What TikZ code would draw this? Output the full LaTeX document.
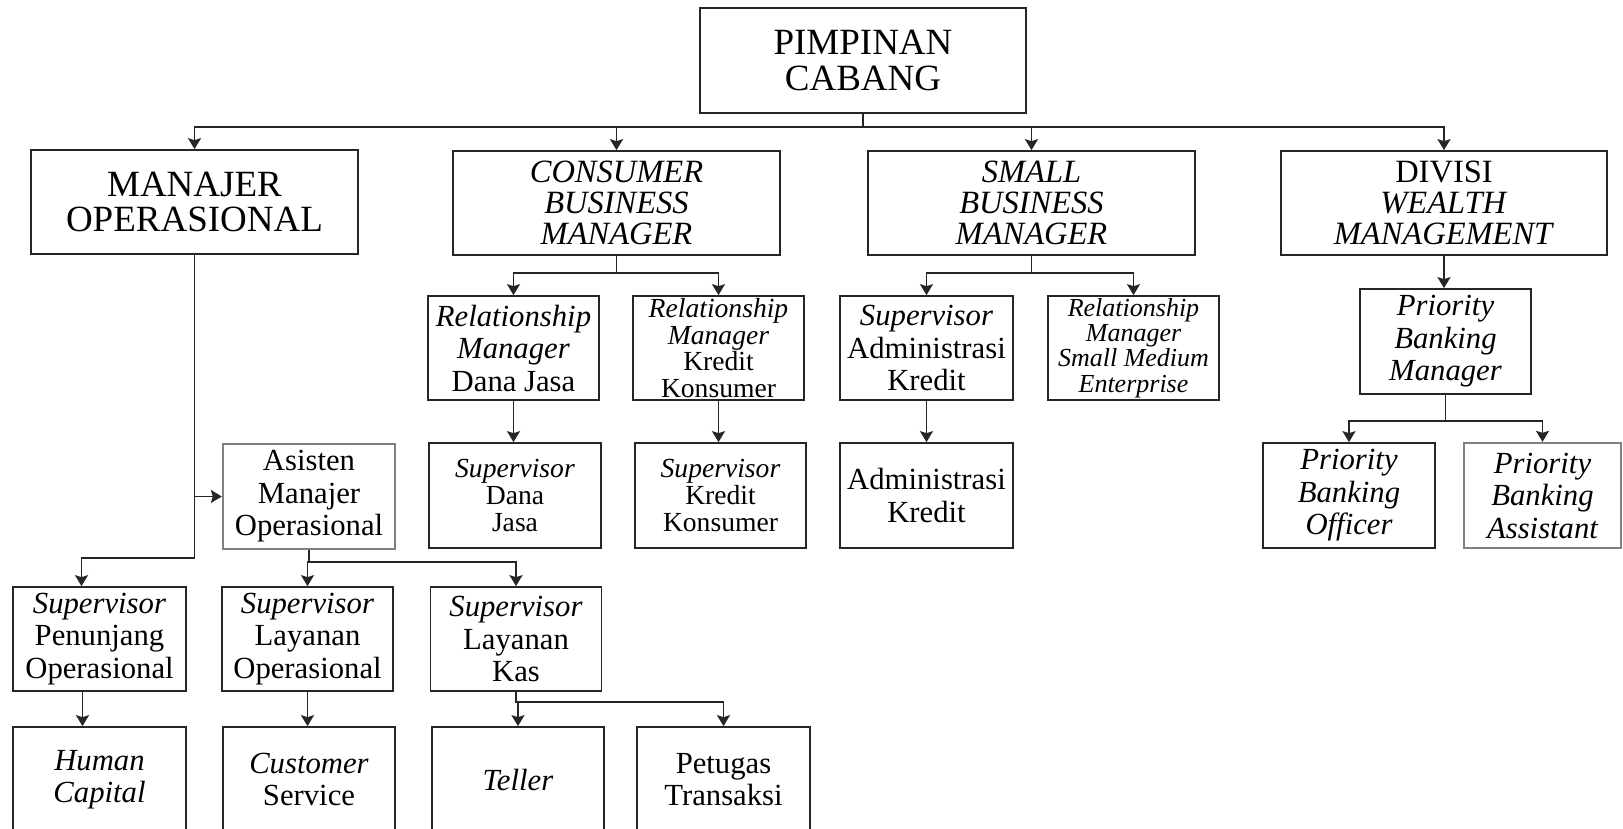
\documentclass[tikz,border=0pt]{standalone}
\usepackage{fontspec}
\setmainfont{Liberation Serif}
\usetikzlibrary{arrows.meta}

\tikzset{
  box/.style={draw=black!85, line width=1.7pt, align=center, inner sep=0pt,
    minimum width=172pt, minimum height=104pt},
  graybox/.style={box, draw=black!50, line width=2.3pt},
  arr/.style={draw=black!85, line width=1.7pt, -{Stealth[length=11pt,width=13pt,inset=2pt]}},
  bigtxt/.style={font=\fontsize{37}{35.5}\selectfont},
  headtxt/.style={font=\fontsize{32.5}{31.3}\selectfont},
  ithead/.style={font=\fontsize{32.5}{31.3}\selectfont\itshape},
  bodytxt/.style={font=\fontsize{30.7}{32.5}\selectfont},
  itbody/.style={font=\fontsize{30.7}{32.5}\selectfont\itshape},
  smalltxt/.style={font=\fontsize{27.6}{26.6}\selectfont},
  tinytxt/.style={font=\fontsize{26}{25.2}\selectfont\itshape}
}

\begin{document}
\begin{tikzpicture}[x=1pt,y=-1pt]
    \useasboundingbox (0,0) rectangle (1623,829);
    \clip (0,0) rectangle (1623,829);
    \fill[white] (0,0) rectangle (1623,829);

    % top
    \node[box, bigtxt, minimum width=326pt, minimum height=105pt] (pc) at (863,60.5) {PIMPINAN\\CABANG};

    % second row
    \node[box, bigtxt, minimum width=327pt] (mo) at (194.5,202) {MANAJER\\OPERASIONAL};
    \node[box, ithead, minimum width=327pt] (cbm) at (616.5,203) {CONSUMER\\BUSINESS\\MANAGER};
    \node[box, ithead, minimum width=327pt] (sbm) at (1031.5,203) {SMALL\\BUSINESS\\MANAGER};
    \node[box, headtxt, minimum width=326pt] (dwm) at (1444,203) {DIVISI\\\textit{WEALTH}\\\textit{MANAGEMENT}};

    % third row
    \node[box, bodytxt, minimum width=171pt] (rmdj) at (513.5,348) {\textit{Relationship}\\\textit{Manager}\\Dana Jasa};
    \node[box, smalltxt, minimum width=171pt] (rmkk) at (718.5,348) {\textit{Relationship}\\\textit{Manager}\\Kredit\\Konsumer};
    \node[box, bodytxt, minimum width=173pt] (sak) at (926.5,348) {\textit{Supervisor}\\Administrasi\\Kredit};
    \node[box, tinytxt, minimum width=171pt] (rmsme) at (1133.5,348) {Relationship\\Manager\\Small Medium\\Enterprise};
    \node[box, itbody, minimum width=171pt, minimum height=105pt] (pbm) at (1445.5,341.5) {Priority\\Banking\\Manager};

    % fourth row
    \node[graybox, bodytxt, minimum height=105pt] (amo) at (309,496.5) {Asisten\\Manajer\\Operasional};
    \node[box, smalltxt, minimum height=105pt] (sdj) at (515,495.5) {\textit{Supervisor}\\Dana\\Jasa};
    \node[box, smalltxt, minimum width=171pt, minimum height=105pt] (skk) at (720.5,495.5) {\textit{Supervisor}\\Kredit\\Konsumer};
    \node[box, bodytxt, minimum width=173pt, minimum height=105pt] (ak) at (926.5,495.5) {Administrasi\\Kredit};
    \node[box, itbody, minimum height=105pt] (pbo) at (1349,495.5) {Priority\\Banking\\Officer};
    \node[graybox, itbody, minimum width=157pt, minimum height=105pt] (pba) at (1542.5,495.5) {Priority\\Banking\\Assistant};

    % fifth row
    \node[box, bodytxt, minimum width=173pt] (spo) at (99.5,639) {\textit{Supervisor}\\Penunjang\\Operasional};
    \node[box, bodytxt, minimum width=171pt] (slo) at (307.5,639) {\textit{Supervisor}\\Layanan\\Operasional};
    \node[box, bodytxt, minimum width=171pt] (slk) at (516,639) {\textit{Supervisor}\\Layanan\\Kas};

    % bottom row
    \node[box, bodytxt, minimum width=173pt, minimum height=105pt] (hc) at (99.5,779.5) {\textit{Human}\\\textit{Capital}};
    \node[box, bodytxt, minimum height=105pt] (cs) at (309,779.5) {\textit{Customer}\\Service};
    \node[box, bodytxt, minimum height=105pt] (tl) at (518,779.5) {\textit{Teller}};
    \node[box, bodytxt, minimum width=173pt, minimum height=105pt] (pt) at (723.5,779.5) {Petugas\\Transaksi};

    % connectors
    \foreach \n in {mo,cbm,sbm,dwm}
        \draw[arr] (pc.south) -- ++(0,13) -| (\n.north);
    \foreach \n in {rmdj,rmkk}
        \draw[arr] (cbm.south) -- ++(0,17) -| (\n.north);
    \foreach \n in {sak,rmsme}
        \draw[arr] (sbm.south) -- ++(0,17) -| (\n.north);
    \draw[arr] (dwm.south) -- (dwm.south |- pbm.north);
    \foreach \n in {pbo,pba}
        \draw[arr] (pbm.south) -- ++(0,26) -| (\n.north);
    \draw[arr] (rmdj.south) -- (rmdj.south |- sdj.north);
    \draw[arr] (rmkk.south) -- (rmkk.south |- skk.north);
    \draw[arr] (sak.south) -- (ak.north);

    \draw[arr] (mo.south) -- ++(0,303) -| ([xshift=-18pt]spo.north);
    \draw[arr] (mo.south |- amo.west) -- (amo.west);
    \foreach \n in {slo,slk}
        \draw[arr] (amo.south) -- ++(0,12) -| (\n.north);
    \draw[arr] ([xshift=-17pt]spo.south) -- ([xshift=-17pt]spo.south |- hc.north);
    \draw[arr] (slo.south) -- (slo.south |- cs.north);
    \foreach \n in {tl,pt}
        \draw[arr] (slk.south) -- ++(0,10) -| (\n.north);
\end{tikzpicture}
\end{document}
